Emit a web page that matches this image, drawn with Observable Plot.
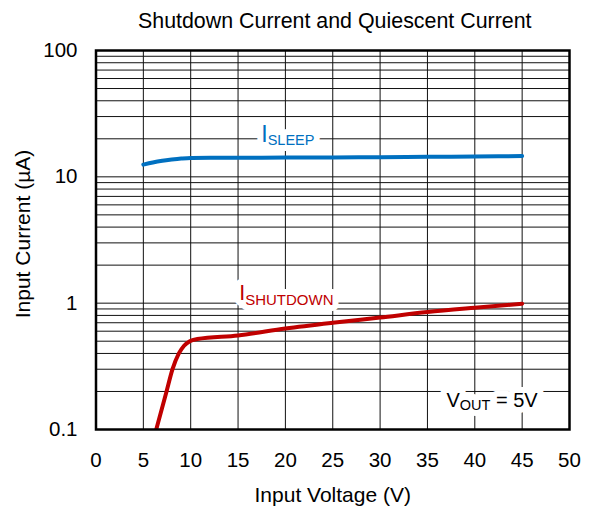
<!DOCTYPE html>
<html><head><meta charset="utf-8">
<script src="https://cdn.jsdelivr.net/npm/d3@7"></script>
<script src="https://cdn.jsdelivr.net/npm/@observablehq/plot@0.6"></script>
<style>body{margin:0;background:#fff}</style>
</head><body><div id="chart"></div>
<script>
const title = "Shutdown Current and Quiescent Current";
const xLabel = "Input Voltage (V)";
const yLabel = "Input Current (µA)";
const xTicks = [0, 5, 10, 15, 20, 25, 30, 35, 40, 45, 50];
const yTicks = [0.1, 1, 10, 100];
const yGrid = [0.1, 0.2, 0.3, 0.4, 0.5, 0.6, 0.7, 0.8, 0.9,
               1, 2, 3, 4, 5, 6, 7, 8, 9,
               10, 20, 30, 40, 50, 60, 70, 80, 90, 100];
// I_SLEEP (µA) vs input voltage (V)
const sleepV = [5, 6, 7, 8, 9, 10, 15, 20, 25, 30, 35, 40, 45];
const sleepI = [12.5, 13.0, 13.4, 13.7, 13.95, 14.1, 14.15, 14.2, 14.25, 14.3, 14.4, 14.5, 14.6];
// I_SHUTDOWN (µA) vs input voltage (V)
const shutdownV = [6.36, 7.45, 8.08, 8.75, 9.3, 9.9, 10.7, 15, 20, 25, 30, 35, 40, 45];
const shutdownI = [0.1, 0.2, 0.3, 0.4, 0.46, 0.5, 0.52, 0.555, 0.63, 0.7, 0.77, 0.85, 0.92, 0.99];
// annotation texts ("main_sub_rest")
const labelTexts = ["I_SLEEP_", "I_SHUTDOWN_", "V_OUT_ = 5V"];
const labelV = [17.45, 15.12, 37.0];
const labelI = [18.8, 1.064, 0.150];

const BLUE = "#0070C0", RED = "#C00000";
const sleep = sleepV.map((v, i) => ({v, i: sleepI[i]}));
const shutdown = shutdownV.map((v, i) => ({v, i: shutdownI[i]}));
const labels = labelTexts.map((t, k) => ({t, v: labelV[k], i: labelI[k]}));
const labelColors = [BLUE, RED, "#000"];
const mainSize = [23, 21.5, 20];
const subSize = [14.5, 15, 14.5];
const subShift = [2.6, 5.7, 2.6];

const chart = Plot.plot({
  width: 590, height: 507,
  marginLeft: 95.5, marginRight: 21, marginTop: 50, marginBottom: 78,
  style: {fontFamily: "'Liberation Sans', Arial, sans-serif", fontSize: "20.5px", background: "#fff"},
  x: {domain: [0, 50]},
  y: {type: "log", domain: [0.1, 100]},
  marks: [
    Plot.ruleX(xTicks, {stroke: "#111", strokeWidth: 1}),
    Plot.ruleY(yGrid, {stroke: "#111", strokeWidth: 1}),
    Plot.line(sleep, {x: "v", y: "i", stroke: BLUE, strokeWidth: 4, curve: "monotone-x"}),
    Plot.line(shutdown, {x: "v", y: "i", stroke: RED, strokeWidth: 4, curve: "monotone-x", clip: true}),
    // white halo behind annotations
    Plot.text(labels, {x: "v", y: "i", text: "t", textAnchor: "start", lineAnchor: "bottom",
      fill: "white", stroke: "white", strokeWidth: 12}),
    Plot.text(labels, {x: "v", y: "i", text: "t", textAnchor: "start", lineAnchor: "bottom",
      fill: (d, k) => labelColors[k]}),
    Plot.axisX({ticks: xTicks, tickSize: 0, tickPadding: 23, label: null, tickFormat: d => String(d)}),
    Plot.axisY({ticks: yTicks, tickSize: 0, tickPadding: 18.5, label: null, tickFormat: d => String(d)}),
    Plot.text([xLabel], {frameAnchor: "bottom", textAnchor: "middle", lineAnchor: "bottom", dy: 72, fontSize: 21}),
    Plot.text([yLabel], {frameAnchor: "left", textAnchor: "middle", lineAnchor: "bottom", rotate: -90, dx: -66, dy: -6, fontSize: 21}),
    Plot.text([title], {frameAnchor: "top", textAnchor: "middle", lineAnchor: "bottom", dy: -22.7, dx: 2, fontSize: 21.4}),
    Plot.frame({stroke: "#000", strokeWidth: 2.5})
  ]
});
document.getElementById("chart").appendChild(chart);

// render subscripts inside annotation texts
d3.select(chart).selectAll("text").each(function() {
  const s = this.textContent;
  const k = labelTexts.indexOf(s);
  if (k < 0) return;
  const [main, sub, rest] = s.split("_");
  const t = d3.select(this);
  t.text(null);
  t.append("tspan").attr("font-size", mainSize[k]).text(main);
  t.append("tspan").attr("font-size", subSize[k]).attr("dy", subShift[k]).text(sub);
  if (rest) t.append("tspan").attr("font-size", mainSize[k]).attr("dy", -subShift[k]).text(rest);
});
</script>
</body></html>
